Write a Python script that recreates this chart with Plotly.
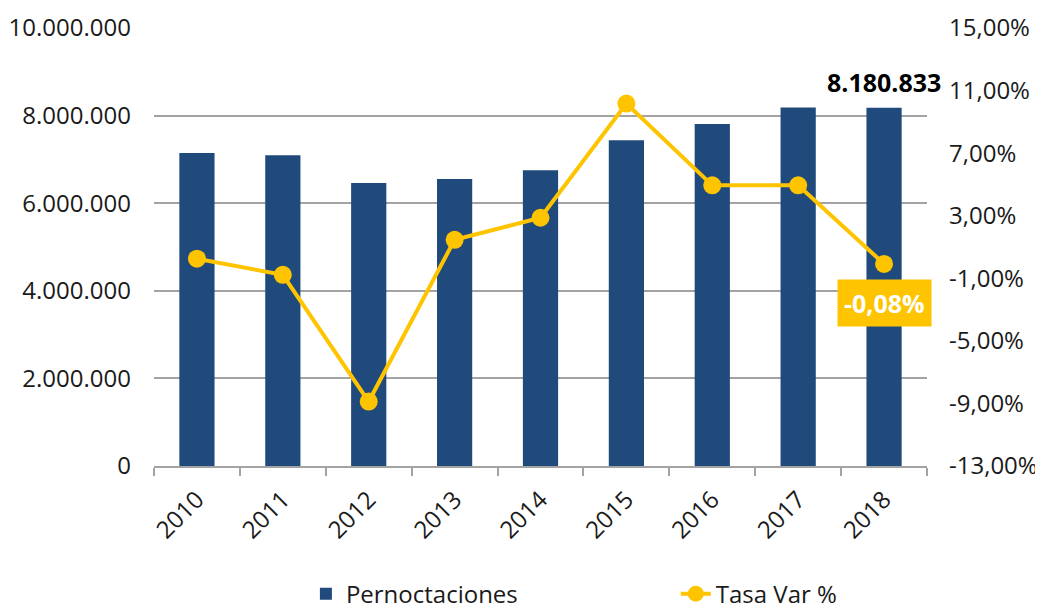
import plotly.graph_objects as go

years = ["2010", "2011", "2012", "2013", "2014", "2015", "2016", "2017", "2018"]
pernoctaciones = [7147000, 7095000, 6460000, 6555000, 6755000, 7440000, 7810000, 8187000, 8180833]
tasa_var = [0.25, -0.78, -8.88, 1.46, 2.87, 10.17, 4.94, 4.94, -0.08]

right_ticks = [15, 11, 7, 3, -1, -5, -9, -13]
right_labels = ["15,00%", "11,00%", "7,00%", "3,00%", "-1,00%", "-5,00%", "-9,00%", "-13,00%"]

BAR = "#214A7C"
YEL = "#FFC400"
GRID = "#A3A3A3"
FONT = "Open Sans"
TXT = "#1a1a1a"

last = len(years) - 1

fig = go.Figure()
fig.add_trace(go.Bar(
    x=years, y=pernoctaciones, name="Pernoctaciones",
    marker=dict(color=BAR, line=dict(width=0)),
    yaxis="y", legend="legend",
))
fig.add_trace(go.Scatter(
    x=years, y=tasa_var, name="Tasa Var %", mode="lines+markers",
    line=dict(color=YEL, width=4),
    marker=dict(color=YEL, size=18),
    yaxis="y2", legend="legend2",
))

fig.add_annotation(
    x=last, y=pernoctaciones[-1], xref="x", yref="y",
    text="<b>8.180.833</b>", showarrow=False, yanchor="bottom", yshift=7,
    font=dict(family=FONT, size=25, color="#000000"),
)
fig.add_annotation(
    x=last, y=tasa_var[-1], xref="x", yref="y2",
    text="<b>-0,08%</b>", showarrow=False, yanchor="top", yshift=-15,
    font=dict(family=FONT, size=25, color="#FFFFFF"),
    bgcolor=YEL, borderpad=6,
)

leg_common = dict(
    orientation="h", xanchor="left", y=-0.241, yanchor="top",
    font=dict(family=FONT, size=24, color=TXT),
    bgcolor="rgba(0,0,0,0)",
)

fig.update_layout(
    width=1035, height=625,
    margin=dict(l=146, r=116, t=20, b=167),
    paper_bgcolor="white", plot_bgcolor="white",
    separators=",.",
    font=dict(family=FONT, size=24, color=TXT),
    bargap=0.59,
    showlegend=True,
    legend=dict(x=0.1965, **leg_common),
    legend2=dict(x=0.675, **leg_common),
    xaxis=dict(
        type="category", range=[-0.5, last + 0.5], automargin=False,
        showline=True, linecolor=GRID, linewidth=2,
        ticks="outside", ticklen=8, tickcolor=GRID, tickwidth=2,
        tickson="boundaries", tickangle=-45, ticklabelstandoff=8,
        showgrid=False,
    ),
    yaxis=dict(
        range=[0, 10000000], dtick=2000000, tick0=0, automargin=False,
        tickformat=",d",
        showgrid=True, gridcolor=GRID, gridwidth=2,
        showline=False, zeroline=False,
        ticks="", ticklabelstandoff=22,
    ),
    yaxis2=dict(
        overlaying="y", side="right", automargin=False,
        range=[-13, 15], tickmode="array",
        tickvals=right_ticks, ticktext=right_labels,
        showgrid=False, zeroline=False, showline=False,
        ticks="", ticklabelstandoff=21,
    ),
)

fig.write_html("out.html")
